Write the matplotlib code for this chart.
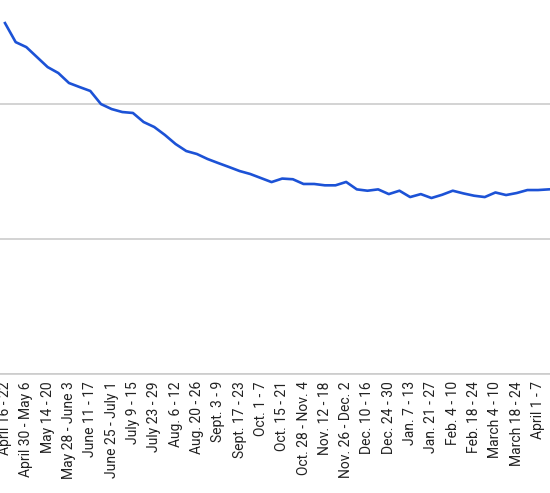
import matplotlib
matplotlib.use("Agg")
import matplotlib.pyplot as plt

plt.rcParams['font.family'] = ['Roboto', 'DejaVu Sans']

# weekly values (units: gridlines at 10 and 20)
values = [26.02, 24.61, 24.24, 23.5, 22.76, 22.32, 21.58, 21.28, 20.99, 20.02,
          19.65, 19.43, 19.36, 18.69, 18.32, 17.73, 17.06, 16.54, 16.32, 15.95,
          15.65, 15.36, 15.06, 14.84, 14.54, 14.24, 14.5, 14.45, 14.1, 14.1,
          14.0, 14.0, 14.25, 13.7, 13.6, 13.7, 13.35, 13.6, 13.13, 13.35,
          13.06, 13.3, 13.6, 13.4, 13.23, 13.13, 13.47, 13.28, 13.43, 13.65,
          13.65, 13.7]

labels = ["April 16 - 22", "April 30 - May 6", "May 14 - 20", "May 28 - June 3",
          "June 11 - 17", "June 25 - July 1", "July 9 - 15", "July 23 - 29",
          "Aug. 6 - 12", "Aug. 20 - 26", "Sept. 3 - 9", "Sept. 17 - 23",
          "Oct. 1 - 7", "Oct. 15 - 21", "Oct. 28 - Nov. 4", "Nov. 12 - 18",
          "Nov. 26 - Dec. 2", "Dec. 10 - 16", "Dec. 24 - 30", "Jan. 7 - 13",
          "Jan. 21 - 27", "Feb. 4 - 10", "Feb. 18 - 24", "March 4 - 10",
          "March 18 - 24", "April 1 - 7"]

fig = plt.figure(figsize=(5.5, 4.93), dpi=100)
ax = fig.add_axes([0, 0.2408, 1, 0.7592])

x = list(range(len(values)))
ax.plot(x, values, color='#1c52d6', lw=1.9, solid_joinstyle='round')

ax.set_xlim(-0.469, 51.12)
ax.set_ylim(0, 27.73)
ax.set_yticks([0, 10, 20])
ax.yaxis.grid(True, color='#cccccc', lw=1.2)
ax.set_axisbelow(True)
ax.tick_params(axis='y', left=False, labelleft=False)

ax.set_xticks(list(range(0, 52, 2)))
ax.set_xticklabels(labels, rotation=90, fontsize=10, color='#222222')
ax.tick_params(axis='x', length=0, pad=5)

for s in ['top', 'right', 'left']:
    ax.spines[s].set_visible(False)
ax.spines['bottom'].set_color('#cccccc')
ax.spines['bottom'].set_linewidth(1.2)

fig.savefig('out.png', dpi=100)
